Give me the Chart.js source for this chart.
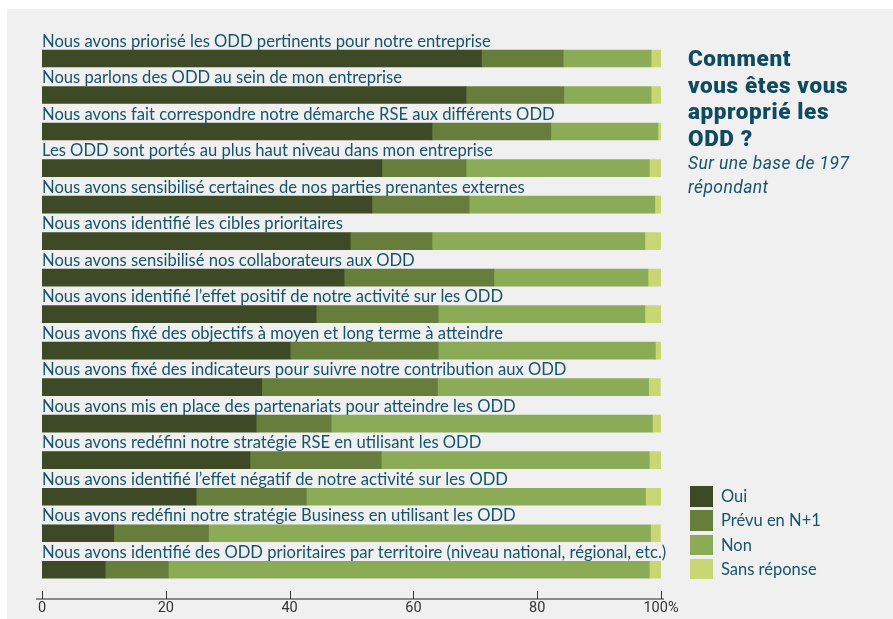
<!DOCTYPE html>
<html lang="fr">
<head>
<meta charset="utf-8">
<script src="https://cdn.jsdelivr.net/npm/chart.js@4.4.1/dist/chart.umd.min.js"></script>
<style>
  html, body { margin: 0; padding: 0; background: #ffffff; }
  #wrap { position: relative; width: 893px; height: 619px; overflow: hidden; }
  #panel { position: absolute; left: 7px; top: 9px; width: 886px; height: 610px; background: #eff0ef; }
  #myChart { position: absolute; left: 0; top: 0; }
  .title { position: absolute; left: 688px; top: 45px; font-family: Roboto, sans-serif; font-weight: 900;
           font-size: 22.5px; letter-spacing: 0.6px; line-height: 26.5px; color: #0f4a60; }
  .sub { position: absolute; left: 688px; top: 151px; font-family: Roboto, sans-serif; font-style: italic;
         font-size: 17.5px; letter-spacing: 0.4px; line-height: 24px; color: #17536a; }
  .legend { position: absolute; left: 690px; top: 486px; font-family: Lato, sans-serif; font-size: 16.5px; color: #17536a; }
  .legend div { height: 24.3px; display: flex; align-items: flex-start; }
  .legend span.sw { display: inline-block; width: 23px; height: 20.5px; margin-right: 8px; }
  .legend span.tx { line-height: 21px; }
</style>
</head>
<body>
<div id="wrap">
  <div id="panel"></div>
  <canvas id="myChart" width="893" height="619"></canvas>
  <div class="title">Comment<br>vous êtes vous<br>approprié les<br>ODD ?</div>
  <div class="sub">Sur une base de 197<br>répondant</div>
  <div class="legend" id="legend"></div>
</div>
<script>
const categories = [
    'Nous avons priorisé les ODD pertinents pour notre entreprise',
    'Nous parlons des ODD au sein de mon entreprise',
    'Nous avons fait correspondre notre démarche RSE aux différents ODD',
    'Les ODD sont portés au plus haut niveau dans mon entreprise',
    'Nous avons sensibilisé certaines de nos parties prenantes externes',
    'Nous avons identifié les cibles prioritaires',
    'Nous avons sensibilisé nos collaborateurs aux ODD',
    'Nous avons identifié l\u2019effet positif de notre activité sur les ODD',
    'Nous avons fixé des objectifs à moyen et long terme à atteindre',
    'Nous avons fixé des indicateurs pour suivre notre contribution aux ODD',
    'Nous avons mis en place des partenariats pour atteindre les ODD',
    'Nous avons redéfini notre stratégie RSE en utilisant les ODD',
    'Nous avons identifié l\u2019effet négatif de notre activité sur les ODD',
    'Nous avons redéfini notre stratégie Business en utilisant les ODD',
    'Nous avons identifié des ODD prioritaires par territoire (niveau national, régional, etc.)'
];

const seriesNames = ['Oui', 'Prévu en N+1', 'Non', 'Sans réponse'];
const oui = [71.0, 68.5, 63.0, 54.9, 53.3, 49.8, 48.8, 44.3, 40.1, 35.5, 34.6, 33.6, 24.9, 11.6, 10.2];
const prevu = [13.2, 15.8, 19.2, 13.6, 15.7, 13.2, 24.2, 19.7, 23.9, 28.4, 12.1, 21.2, 17.8, 15.3, 10.2];
const non = [14.2, 14.1, 17.3, 29.6, 30.0, 34.4, 24.9, 33.4, 35.1, 34.1, 51.9, 43.3, 54.8, 71.4, 77.7];
const sansReponse = [1.6, 1.6, 0.5, 1.9, 1.0, 2.6, 2.1, 2.6, 1.0, 1.9, 1.5, 1.9, 2.6, 1.6, 2.1];
const tickValues = [0, 20, 40, 60, 80, 100];

const colors = ['#3d4a25', '#677d3b', '#8bab56', '#c8d674'];
const textColor = '#17536a';

// libellés au-dessus de chaque barre
const categoryLabels = {
    id: 'categoryLabels',
    afterDatasetsDraw(chart) {
        const ctx = chart.ctx;
        const y = chart.scales.y;
        const x = chart.scales.x;
        ctx.save();
        ctx.fillStyle = textColor;
        ctx.font = '16.6px Lato, sans-serif';
        ctx.textAlign = 'left';
        ctx.textBaseline = 'alphabetic';
        chart.data.labels.forEach(function(label, i) {
            ctx.fillText(label, x.left, y.getPixelForValue(i) - 12);
        });
        ctx.restore();
    }
};

// axe horizontal avec graduations vers le haut
const bottomAxis = {
    id: 'bottomAxis',
    afterDraw(chart) {
        const ctx = chart.ctx;
        const x = chart.scales.x;
        const yLine = chart.chartArea.bottom + 11;
        ctx.save();
        ctx.strokeStyle = '#8a8a8a';
        ctx.lineWidth = 2;
        ctx.beginPath();
        ctx.moveTo(x.getPixelForValue(0) - 6, yLine);
        ctx.lineTo(x.getPixelForValue(100) + 3, yLine);
        ctx.stroke();
        ctx.strokeStyle = '#333333';
        ctx.lineWidth = 1;
        tickValues.forEach(function(v) {
            const px = Math.round(x.getPixelForValue(v)) + 0.5;
            ctx.beginPath();
            ctx.moveTo(px, yLine - 8);
            ctx.lineTo(px, yLine);
            ctx.stroke();
        });
        ctx.restore();
    }
};

const ctx = document.getElementById('myChart').getContext('2d');
const values = [oui, prevu, non, sansReponse];

const myChart = new Chart(ctx, {
    type: 'bar',
    data: {
        labels: categories,
        datasets: seriesNames.map(function(name, i) {
            return {
                label: name,
                data: values[i],
                backgroundColor: colors[i],
                borderWidth: 0,
                barThickness: 17
            };
        })
    },
    options: {
        indexAxis: 'y',
        responsive: false,
        animation: false,
        layout: {
            padding: { left: 42, right: 232, top: 40.25, bottom: 4 }
        },
        plugins: {
            legend: { display: false },
            tooltip: { enabled: false }
        },
        scales: {
            x: {
                stacked: true,
                min: 0,
                max: 100,
                grid: { display: false, drawTicks: false },
                border: { display: false },
                afterBuildTicks: function(axis) {
                    axis.ticks = tickValues.map(function(v) { return { value: v }; });
                },
                afterFit: function(axis) { axis.height = 27; },
                ticks: {
                    padding: 12,
                    color: '#333333',
                    font: { family: 'Roboto', size: 14.5 },
                    callback: function(v) { return v === 100 ? '100%' : v; }
                }
            },
            y: {
                stacked: true,
                display: false
            }
        }
    },
    plugins: [categoryLabels, bottomAxis]
});

// légende
const legendEl = document.getElementById('legend');
seriesNames.forEach(function(name, i) {
    const row = document.createElement('div');
    row.innerHTML = '<span class="sw" style="background:' + colors[i] + '"></span><span class="tx">' + name + '</span>';
    legendEl.appendChild(row);
});
</script>
</body>
</html>
